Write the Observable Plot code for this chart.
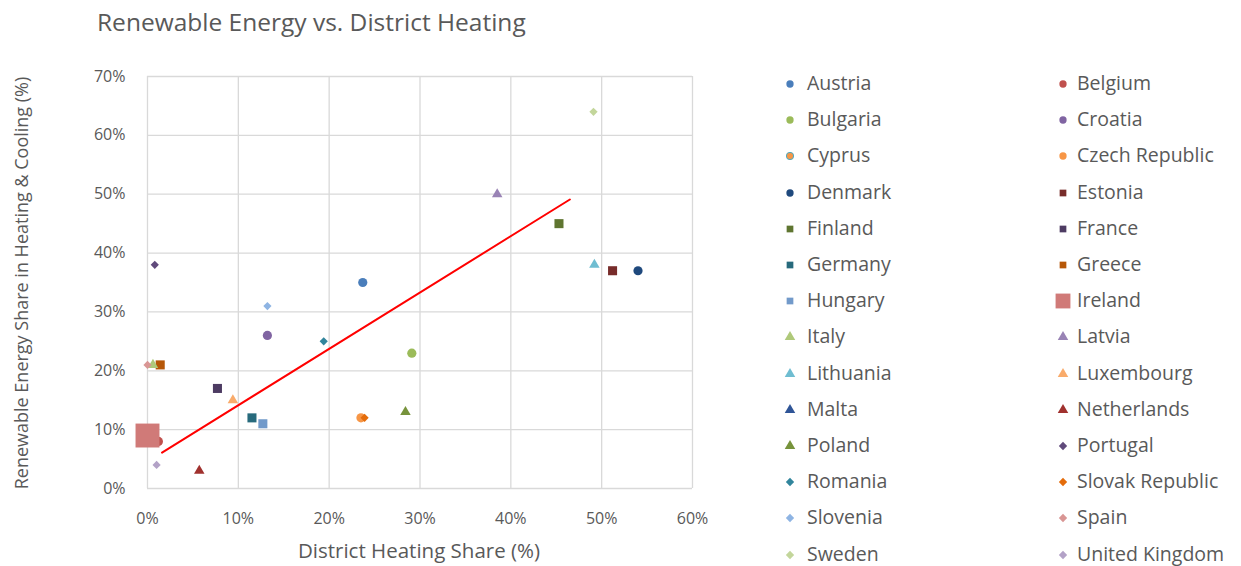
<!DOCTYPE html>
<html><head><meta charset="utf-8">
<script src="https://cdn.jsdelivr.net/npm/d3@7"></script>
<script src="https://cdn.jsdelivr.net/npm/@observablehq/plot@0.6"></script>
<style>
body{margin:0;background:#fff;font-family:"Open Sans",Lato,sans-serif;}
#wrap{position:relative;width:1241px;height:566px;overflow:hidden;background:#fff;}
#chart{position:absolute;left:0;top:0;}
#title{position:absolute;left:97px;top:5px;font-size:24.5px;color:#595959;white-space:nowrap;}
.axl{position:absolute;color:#595959;white-space:nowrap;}
.leg{position:absolute;font-size:19.5px;color:#595959;white-space:nowrap;line-height:1;}
.leg svg{position:absolute;overflow:visible;}
</style></head><body>
<div id="wrap">
  <div id="chart"></div>
  <div id="title">Renewable Energy vs. District Heating</div>
  <div class="axl" id="xlab" style="left:419px;top:550px;font-size:20.5px;transform:translate(-50%,-50%);">District Heating Share (%)</div>
  <div class="axl" id="ylab" style="left:21px;top:283px;font-size:18px;transform:translate(-50%,-50%) rotate(-90deg);">Renewable Energy Share in Heating &amp; Cooling (%)</div>
  <div id="legend"></div>
</div>
<script>
// ---- data ----
const countries = ["Austria","Belgium","Bulgaria","Croatia","Cyprus","Czech Republic","Denmark",
  "Estonia","Finland","France","Germany","Greece","Hungary","Ireland",
  "Italy","Latvia","Lithuania","Luxembourg","Malta","Netherlands","Poland",
  "Portugal","Romania","Slovak Republic","Slovenia","Spain","Sweden","United Kingdom"];
// null = no point visible in the chart
const districtHeatingShare = [23.7,1.2,29.1,13.2,null,23.5,54.0,
  51.2,45.3,7.7,11.5,1.4,12.7,0.0,
  0.6,38.5,49.2,9.4,null,5.7,28.4,
  0.8,19.4,23.9,13.2,0.0,49.1,1.0];
const renewableShare = [35,8,23,26,null,12,37,
  37,45,17,12,21,11,9,
  21,50,38,15,null,3,13,
  38,25,12,31,21,64,4];
const trendX = [1.6, 46.5];
const trendY = [6.1, 49.1];
const xTicks = [0,10,20,30,40,50,60];
const yTicks = [0,10,20,30,40,50,60,70];

// ---- styles ----
const colors = ["#4a7ebb","#c0504d","#9bbb59","#8064a2","#f79646","#f79646","#1f497d",
  "#772c2a","#5f7530","#4d3b62","#276a7c","#b65708","#729aca","#d07a78",
  "#afc97a","#9983b5","#6fbdd1","#f9ab6b","#2f5597","#a0312e","#77933c",
  "#604a7b","#31859c","#e46c0a","#8eb4e3","#d99694","#c3d69b","#b3a2c7"];
const shapeOf = i => i < 7 ? "circle" : i < 14 ? "square" : i < 21 ? "triangle" : "diamond2";
const plotR = {circle:4.6, square:5.1, triangle:3.9, diamond2:3.7};
const legendSize = {circle:42, square:45, triangle:48, diamond2:44};

const rows = countries.map((c,i)=>({country:c, x:districtHeatingShare[i], y:renewableShare[i],
  color:colors[i], shape:shapeOf(i), r: c==="Ireland" ? 13.5 : plotR[shapeOf(i)],
  stroke: c==="Cyprus" ? "#4bacc6" : "none"}));

const grid = "#d9d9d9";
const chart = Plot.plot({
  width: 720, height: 566,
  marginLeft: 147, marginRight: 28, marginTop: 76, marginBottom: 78,
  style: {fontFamily: "'Open Sans', Lato, sans-serif", fontSize: "16px", color: "#595959", background: "transparent"},
  x: {domain:[0,60], ticks:xTicks, tickFormat:d=>d+"%", tickSize:0, tickPadding:24, label:null},
  y: {domain:[0,70], ticks:yTicks, tickFormat:d=>d+"%", tickSize:0, tickPadding:22, label:null},
  color: {type:"identity"},
  r: {type:"identity"},
  marks: [
    Plot.ruleX(xTicks, {stroke:grid, strokeWidth:1.3}),
    Plot.ruleY(yTicks, {stroke:grid, strokeWidth:1.3}),
    ...["circle","square","triangle","diamond2"].map(s =>
      Plot.dot(rows.filter(d=>d.shape===s && d.x!=null), {x:"x", y:"y", r:"r", symbol:()=>s, fill:"color", stroke:"stroke", strokeWidth:1.2})),
    Plot.line(trendX.map((x,i)=>({x, y:trendY[i]})), {x:"x", y:"y", stroke:"#ff0000", strokeWidth:2})
  ]
});
document.getElementById("chart").appendChild(chart);

// ---- legend ----
const symbolMap = {circle:d3.symbolCircle, square:d3.symbolSquare, triangle:d3.symbolTriangle, diamond2:d3.symbolDiamond2};
const leg = document.getElementById("legend");
rows.forEach((d,i)=>{
  const col = i % 2, row = Math.floor(i/2);
  const cy = 84 + row*36.2;
  const mx = col===0 ? 790 : 1063;
  const tx = col===0 ? 807 : 1077;
  const size = d.country==="Ireland" ? 220 : legendSize[d.shape];
  const path = d3.symbol(symbolMap[d.shape], size)();
  const el = document.createElement("div");
  el.className = "leg";
  el.style.left = tx + "px";
  el.style.top = (cy - 11) + "px";
  el.innerHTML = `<svg width="1" height="1" style="left:${mx-tx}px;top:11px"><path d="${path}" fill="${d.color}" stroke="${d.stroke}" stroke-width="1"/></svg>${d.country}`;
  leg.appendChild(el);
});
</script>
</body></html>
